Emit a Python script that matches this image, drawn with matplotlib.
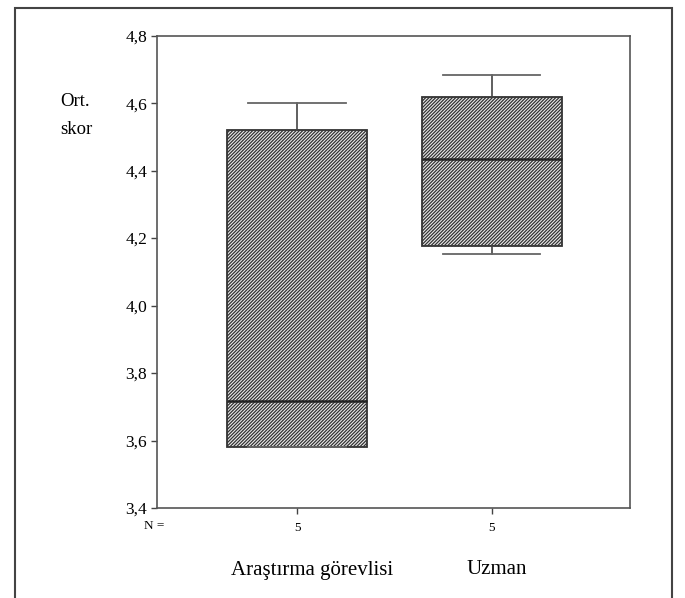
import matplotlib
matplotlib.use('Agg')
import matplotlib.pyplot as plt
from matplotlib.patches import Rectangle

# --- data ---
groups = ['Araştırma görevlisi', 'Uzman']
n_counts = ['5', '5']
whisker_low = [3.58, 4.152]
q1 = [3.58, 4.177]
median = [3.718, 4.435]
q3 = [4.52, 4.617]
whisker_high = [4.60, 4.684]
y_ticks = [3.4, 3.6, 3.8, 4.0, 4.2, 4.4, 4.6, 4.8]
y_tick_labels = ['3,4', '3,6', '3,8', '4,0', '4,2', '4,4', '4,6', '4,8']

plt.rcParams['font.family'] = ['Liberation Serif', 'DejaVu Serif']
plt.rcParams['hatch.linewidth'] = 0.9
plt.rcParams['hatch.color'] = '#7a7a7a'

fig = plt.figure(figsize=(6.85, 5.98), dpi=100)
ax = fig.add_axes([0.2288, 0.1505, 0.9197 - 0.2288, 0.9403 - 0.1505])

stats = []
for i in range(len(groups)):
    stats.append({'whislo': whisker_low[i], 'q1': q1[i], 'med': median[i],
                  'q3': q3[i], 'whishi': whisker_high[i], 'fliers': []})

bp = ax.bxp(stats, positions=[1, 2], widths=0.72, patch_artist=True,
            showfliers=False, capwidths=0.5,
            boxprops=dict(facecolor='#ebebeb', edgecolor='#333333', linewidth=1.3,
                          hatch='//////////'),
            medianprops=dict(color='#222222', linewidth=1.8),
            whiskerprops=dict(color='#444444', linewidth=1.2),
            capprops=dict(color='#666666', linewidth=1.3))

ax.set_xlim(0.279, 2.71)
ax.set_ylim(3.4, 4.8)
ax.set_yticks(y_ticks)
ax.set_yticklabels(y_tick_labels, fontsize=12.5)
ax.tick_params(axis='y', direction='out', length=4, width=1, color='#444444', pad=3)
ax.set_xticks([1, 2])
ax.set_xticklabels(n_counts, fontsize=9.5)
ax.tick_params(axis='x', direction='out', length=4, width=1, color='#444444', pad=6)
for s in ax.spines.values():
    s.set_color('#555555')
    s.set_linewidth(1.2)

# N = label and group names under the axis
fig.text(154 / 685, 1 - 526 / 598, 'N =', fontsize=9.5, ha='center', va='center')
fig.text(312 / 685, 1 - 570 / 598, groups[0], fontsize=15, ha='center', va='center')
fig.text(497 / 685, 1 - 570 / 598, groups[1], fontsize=15, ha='center', va='center')

# y axis title
fig.text(60 / 685, 1 - 102 / 598, 'Ort.', fontsize=13.5, ha='left', va='center')
fig.text(60 / 685, 1 - 129 / 598, 'skor', fontsize=13.5, ha='left', va='center')

# outer frame of the scanned figure
fig.patches.append(Rectangle((15 / 685, -0.05), (672 - 15) / 685, 1.05 - 8 / 598,
                             transform=fig.transFigure, fill=False,
                             edgecolor='#444444', linewidth=1.5))

fig.savefig('out.png', dpi=100)
